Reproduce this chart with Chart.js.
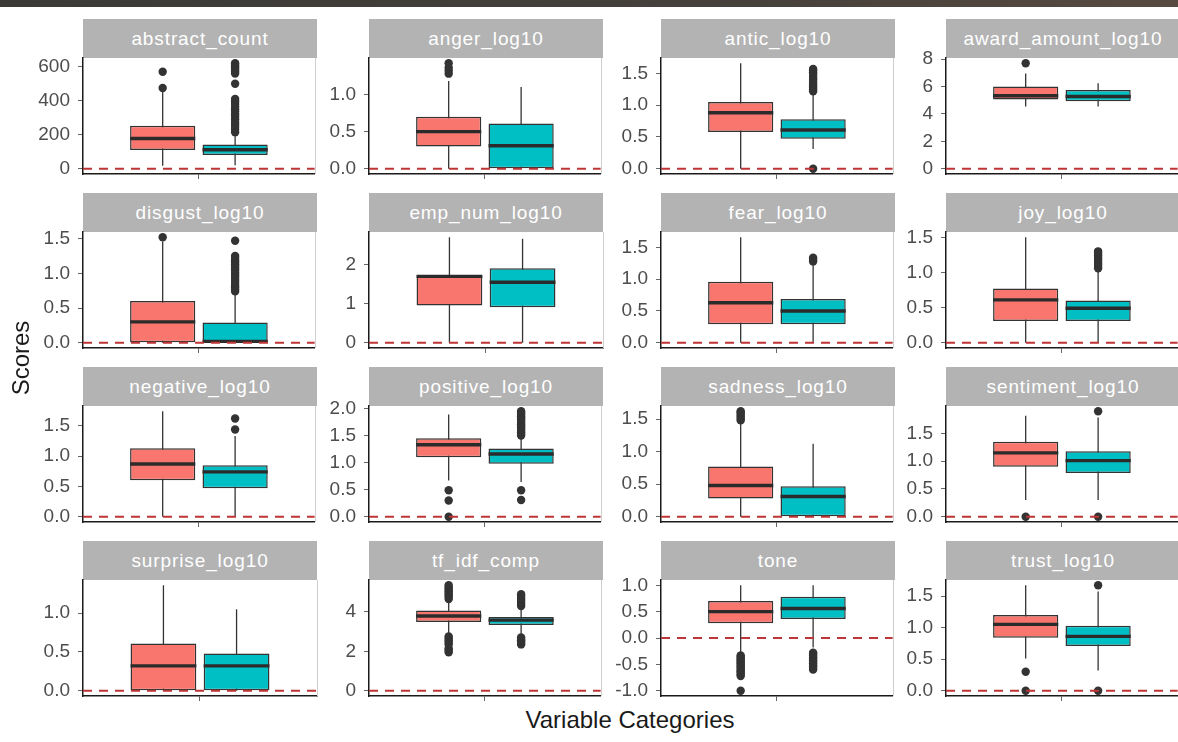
<!DOCTYPE html>
<html>
<head>
<meta charset="utf-8">
<script src="https://cdn.jsdelivr.net/npm/chart.js@4.4.1/dist/chart.umd.min.js"></script>
<style>
  body { margin: 0; background: #fff; width: 1178px; height: 742px; overflow: hidden; position: relative;
         font-family: 'Liberation Sans', Arial, sans-serif; }
  .topbar { position: absolute; left: 0; top: 0; width: 1178px; height: 7px;
            background: linear-gradient(to right, #3b3a37, #45403b 60%, #574a40); }
  .strip { position: absolute; background: #b3b3b3; color: #fff; font-size: 19px; letter-spacing: 0.9px;
           display: flex; align-items: center; justify-content: center; }
  canvas { position: absolute; }
  .ytitle { position: absolute; left: -79px; top: 343px; width: 200px; height: 30px; line-height: 30px;
            text-align: center; font-size: 24px; color: #1a1a1a; transform: rotate(-90deg); }
  .xtitle { position: absolute; left: 430px; top: 707px; width: 400px; height: 26px; line-height: 26px;
            text-align: center; font-size: 24px; color: #1a1a1a; }
</style>
</head>
<body>
<div class="topbar"></div>
<div id="panels"></div>
<div class="ytitle">Scores</div>
<div class="xtitle">Variable Categories</div>
<script>
// facet names, row by row
const panelNames = ['abstract_count', 'anger_log10', 'antic_log10', 'award_amount_log10',
  'disgust_log10', 'emp_num_log10', 'fear_log10', 'joy_log10',
  'negative_log10', 'positive_log10', 'sadness_log10', 'sentiment_log10',
  'surprise_log10', 'tf_idf_comp', 'tone', 'trust_log10'];

// y tick labels of each facet
const yTicks = [
  [0, 200, 400, 600], [0, 0.5, 1], [0, 0.5, 1, 1.5], [0, 2, 4, 6, 8],
  [0, 0.5, 1, 1.5], [0, 1, 2], [0, 0.5, 1, 1.5], [0, 0.5, 1, 1.5],
  [0, 0.5, 1, 1.5], [0, 0.5, 1, 1.5, 2], [0, 0.5, 1, 1.5], [0, 0.5, 1, 1.5],
  [0, 0.5, 1], [0, 2, 4], [-1, -0.5, 0, 0.5, 1], [0, 0.5, 1, 1.5]
];

// box stats [whisker low, q1, median, q3, whisker high]
const redBox = [
  [18, 110, 178, 252, 458], [0, 0.30, 0.50, 0.70, 1.18], [0, 0.58, 0.88, 1.05, 1.66], [4.55, 5.05, 5.33, 6.0, 6.95],
  [0, 0, 0.30, 0.60, 1.46], [0, 0.95, 1.70, 1.72, 2.70], [0, 0.29, 0.63, 0.96, 1.66], [0, 0.31, 0.61, 0.77, 1.50],
  [0, 0.60, 0.87, 1.13, 1.74], [0.67, 1.10, 1.33, 1.45, 1.89], [0, 0.28, 0.48, 0.77, 1.45], [0.30, 0.90, 1.15, 1.35, 1.82],
  [0, 0, 0.32, 0.61, 1.36], [2.80, 3.49, 3.79, 4.07, 4.60], [-0.30, 0.28, 0.50, 0.70, 1.0], [0.51, 0.84, 1.05, 1.20, 1.67]
];
const tealBox = [
  [20, 81, 112, 143, 205], [0, 0, 0.31, 0.61, 1.10], [0.31, 0.47, 0.61, 0.78, 1.18], [4.55, 4.93, 5.27, 5.75, 6.25],
  [0, 0, 0.02, 0.29, 0.70], [0, 0.91, 1.55, 1.91, 2.66], [0, 0.29, 0.50, 0.69, 1.25], [0, 0.31, 0.49, 0.60, 1.03],
  [0, 0.47, 0.74, 0.85, 1.33], [0.64, 0.98, 1.16, 1.26, 1.46], [0, 0, 0.31, 0.47, 1.12], [0.30, 0.79, 1.01, 1.18, 1.79],
  [0, 0, 0.32, 0.48, 1.05], [2.80, 3.33, 3.58, 3.74, 4.20], [-0.18, 0.36, 0.56, 0.78, 1.0], [0.32, 0.71, 0.86, 1.03, 1.57]
];

// outlying points
const redOut = [
  [475, 570],
  [1.28, 1.32, 1.36, 1.42],
  [],
  [7.7],
  [1.52],
  [],
  [],
  [],
  [],
  [0.0, 0.30, 0.49],
  [1.48, 1.51, 1.54, 1.57, 1.60, 1.62],
  [0.0],
  [],
  [1.95, 2.05, 2.15, 2.35, 2.45, 2.55, 2.65, 2.75, 4.65, 4.75, 4.85, 4.95, 5.05, 5.15, 5.25, 5.35],
  [-1.0, -0.72, -0.69, -0.66, -0.63, -0.60, -0.57, -0.54, -0.51, -0.48, -0.45, -0.42, -0.39, -0.36, -0.33],
  [0.0, 0.30]
];
const tealOut = [
  [215, 230, 245, 260, 275, 290, 305, 320, 335, 350, 365, 380, 395, 410, 500, 560, 572, 584, 596, 608, 620],
  [],
  [0.0, 1.22, 1.25, 1.28, 1.31, 1.34, 1.37, 1.40, 1.43, 1.46, 1.49, 1.52, 1.55, 1.57],
  [],
  [0.74, 0.77, 0.80, 0.83, 0.86, 0.89, 0.92, 0.95, 0.98, 1.01, 1.04, 1.07, 1.10, 1.13, 1.16, 1.19, 1.22, 1.25, 1.47],
  [],
  [1.28, 1.31, 1.34],
  [1.06, 1.09, 1.12, 1.15, 1.18, 1.21, 1.24, 1.27, 1.30],
  [1.44, 1.62],
  [0.31, 0.49, 1.50, 1.53, 1.56, 1.59, 1.62, 1.65, 1.68, 1.71, 1.74, 1.77, 1.80, 1.83, 1.86, 1.89, 1.92, 1.95],
  [],
  [0.0, 1.90],
  [],
  [2.35, 2.42, 2.49, 2.56, 2.63, 2.70, 4.30, 4.40, 4.50, 4.60, 4.70, 4.80, 4.90],
  [-0.60, -0.57, -0.54, -0.51, -0.48, -0.45, -0.42, -0.39, -0.36, -0.33, -0.30, -0.28],
  [0.0, 1.67]
];

const fills = ['#F8766D', '#00BFC4'];
const zeroLine = [0];

// layout
const colLeft = [83, 369, 661, 946];
const plotW = 234, plotH = 116, stripH = 39, axisW = 70, padTop = 14, axisH = 10;
const groupX = [0.8125, 1.1875];   // dodged positions around the single category at 1
const boxFrac = 0.9;
const halfBox = 0.375 * boxFrac / 2;

// light right border of each panel
const panelFrame = {
  id: 'panelFrame',
  beforeDatasetsDraw(chart) {
    const a = chart.chartArea, ctx = chart.ctx;
    ctx.save();
    ctx.strokeStyle = '#cfcfcf';
    ctx.lineWidth = 1;
    ctx.beginPath();
    ctx.moveTo(Math.round(a.right) + 0.5, a.top);
    ctx.lineTo(Math.round(a.right) + 0.5, a.bottom);
    ctx.stroke();
    ctx.restore();
  }
};

const holder = document.getElementById('panels');

panelNames.forEach((name, i) => {
  const r = Math.floor(i / 4), c = i % 4;
  const stripTop = 19 + 174 * r;
  const plotTop = stripTop + stripH;
  const plotLeft = colLeft[c];

  const strip = document.createElement('div');
  strip.className = 'strip';
  strip.style.left = plotLeft + 'px';
  strip.style.top = stripTop + 'px';
  strip.style.width = plotW + 'px';
  strip.style.height = stripH + 'px';
  strip.textContent = name;
  holder.appendChild(strip);

  const cv = document.createElement('canvas');
  cv.width = axisW + plotW + 2;
  cv.height = padTop + plotH + axisH;
  cv.style.left = (plotLeft - axisW) + 'px';
  cv.style.top = (plotTop - padTop) + 'px';
  holder.appendChild(cv);

  const stats = [redBox[i], tealBox[i]];
  const outs = [redOut[i], tealOut[i]];
  const all = zeroLine.concat(redBox[i], tealBox[i], redOut[i], tealOut[i]);
  const lo = Math.min(...all), hi = Math.max(...all);
  const pad = (hi - lo) * 0.05;
  const decimals = !yTicks[i].every(Number.isInteger);

  const datasets = [];
  datasets.push({
    type: 'line',
    data: [{x: 0.4, y: zeroLine[0]}, {x: 1.6, y: zeroLine[0]}],
    borderColor: '#bf3535', borderWidth: 1.8, borderDash: [9, 7],
    pointRadius: 0, order: 0
  });
  stats.forEach((s, g) => {
    datasets.push({
      type: 'line',
      data: outs[g].map(v => ({x: groupX[g], y: v})),
      showLine: false, pointRadius: 4.2, pointBackgroundColor: '#333333',
      pointBorderWidth: 0, order: 1
    });
    datasets.push({
      type: 'line',
      data: [{x: groupX[g] - halfBox, y: s[2]}, {x: groupX[g] + halfBox, y: s[2]}],
      borderColor: '#2b2b2b', borderWidth: 3.4, borderCapStyle: 'butt',
      pointRadius: 0, order: 2
    });
    datasets.push({
      type: 'line',
      data: [{x: groupX[g], y: s[0]}, {x: groupX[g], y: s[4]}],
      borderColor: '#333333', borderWidth: 1.3,
      pointRadius: 0, order: 4
    });
  });
  datasets.push({
    type: 'bar',
    data: stats.map((s, g) => ({x: groupX[g], y: [s[1], s[3]]})),
    backgroundColor: fills,
    borderColor: '#333333', borderWidth: 1.5, borderSkipped: false,
    barPercentage: boxFrac, categoryPercentage: 1, order: 3
  });

  new Chart(cv, {
    type: 'bar',
    data: { datasets: datasets },
    plugins: [panelFrame],
    options: {
      responsive: false,
      animation: false,
      devicePixelRatio: 1,
      events: [],
      layout: { padding: { top: padTop, right: 2, left: 0, bottom: 0 } },
      plugins: { legend: { display: false }, tooltip: { enabled: false } },
      scales: {
        x: {
          type: 'linear', min: 0.4, max: 1.6, offset: false, bounds: 'data',
          afterBuildTicks: s => { s.ticks = [{value: 1}]; },
          afterFit: s => { s.height = axisH; s.paddingLeft = 0; s.paddingRight = 0; },
          ticks: { display: false },
          grid: { offset: false, drawOnChartArea: false, drawTicks: true, tickLength: 5, color: '#666666' },
          border: { display: true, color: '#1a1a1a', width: 1.5 }
        },
        y: {
          type: 'linear', min: lo - pad, max: hi + pad, bounds: 'data',
          afterBuildTicks: s => { s.ticks = yTicks[i].map(v => ({value: v})); },
          afterFit: s => { s.width = axisW; s.paddingTop = 0; s.paddingBottom = 0; },
          ticks: {
            padding: 8, color: '#4d4d4d',
            font: { family: 'Liberation Sans', size: 19 },
            callback: v => decimals ? v.toFixed(1) : String(v)
          },
          grid: { drawOnChartArea: false, tickLength: 5, color: '#666666' },
          border: { display: true, color: '#1a1a1a', width: 1.5 }
        }
      }
    }
  });
});
</script>
</body>
</html>
